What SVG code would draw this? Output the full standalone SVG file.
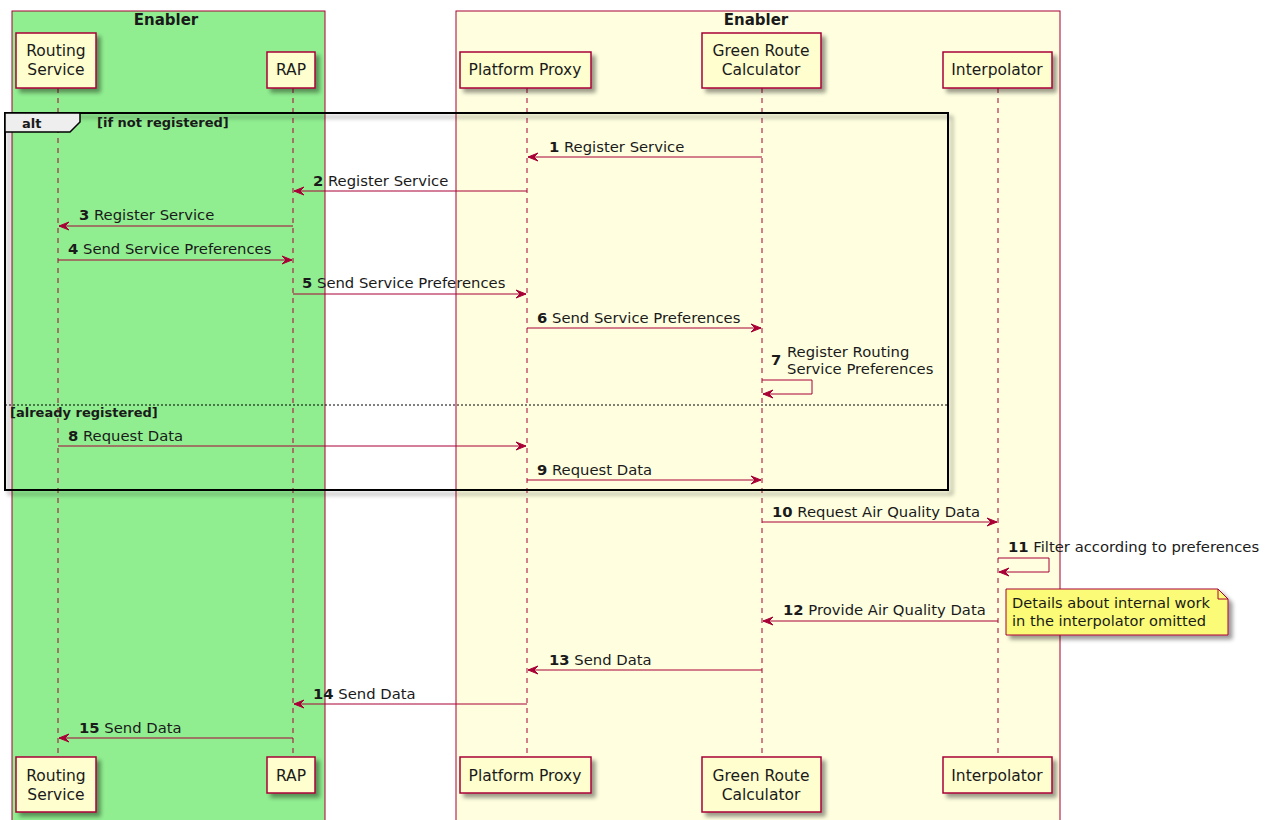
<svg xmlns="http://www.w3.org/2000/svg" width="1271" height="820" viewBox="0 0 1271 820">
  <style>
    text { font-family: "DejaVu Sans", "Liberation Sans", sans-serif; fill: #1a1a1a; }
    .grp { font-size: 15px; font-weight: bold; }
    .part rect { fill: #FEFECE; stroke: #A80036; stroke-width: 1.5; filter: url(#shadow); }
    .part text { font-size: 15.5px; text-anchor: middle; }
    .life { stroke: #A80036; stroke-width: 1; stroke-dasharray: 5,5; fill: none; }
    .msg line, .msg polyline { stroke: #A80036; stroke-width: 1; fill: none; marker-end: url(#arrow); }
    .msg text { font-size: 14.8px; }
    .num { font-weight: bold; }
    .frame { font-size: 13px; font-weight: bold; }
  </style>
  <defs>
    <filter id="shadow" x="-20%" y="-20%" width="150%" height="150%">
      <feGaussianBlur in="SourceAlpha" stdDeviation="2"/>
      <feOffset dx="4" dy="4" result="b"/>
      <feComponentTransfer><feFuncA type="linear" slope="0.4"/></feComponentTransfer>
      <feMerge><feMergeNode/><feMergeNode in="SourceGraphic"/></feMerge>
    </filter>
    <marker id="arrow" viewBox="0 0 11 10" refX="10" refY="5" markerWidth="11" markerHeight="10" markerUnits="userSpaceOnUse" orient="auto">
      <path d="M0,1 L10,5 L0,9 L4,5 Z" fill="#A80036" stroke="#A80036" stroke-width="1"/>
    </marker>
  </defs>

  <rect width="1271" height="820" fill="#FFFFFF"/>

  <!-- participant group boxes -->
  <g id="box-left">
    <rect x="12" y="11" width="313" height="815" fill="#90EE90" stroke="#A80036" stroke-width="1"/>
    <text class="grp" x="166" y="25" text-anchor="middle">Enabler</text>
  </g>
  <g id="box-right">
    <rect x="456" y="11" width="604" height="815" fill="#FFFFE0" stroke="#A80036" stroke-width="1"/>
    <text class="grp" x="756" y="25" text-anchor="middle">Enabler</text>
  </g>

  <!-- lifelines -->
  <g id="lifelines">
    <line class="life" x1="58" y1="88" x2="58" y2="757"/>
    <line class="life" x1="293" y1="88" x2="293" y2="757"/>
    <line class="life" x1="527" y1="88" x2="527" y2="757"/>
    <line class="life" x1="762" y1="88" x2="762" y2="757"/>
    <line class="life" x1="998" y1="88" x2="998" y2="757"/>
  </g>

  <!-- alt fragment -->
  <g id="alt">
    <rect x="5" y="113" width="943" height="377" fill="none" stroke="#000" stroke-width="2" filter="url(#shadow)"/>
    <path d="M5,113 L80,113 L80,122 L70,132 L5,132 Z" fill="#EEEEEE" stroke="#000" stroke-width="1.5"/>
    <text class="frame" x="22" y="128">alt</text>
    <text class="frame" x="97" y="127">[if not registered]</text>
    <line x1="5" y1="405" x2="948" y2="405" stroke="#000" stroke-width="1" stroke-dasharray="2,2"/>
    <text class="frame" x="10" y="417">[already registered]</text>
  </g>

  <!-- participants (top) -->
  <g id="p-routing" class="part">
    <rect x="16" y="33" width="80" height="55"/>
    <text x="56" y="56">Routing</text>
    <text x="56" y="75">Service</text>
  </g>
  <g id="p-rap" class="part">
    <rect x="267" y="52" width="48" height="36"/>
    <text x="291" y="75">RAP</text>
  </g>
  <g id="p-proxy" class="part">
    <rect x="460" y="52" width="131" height="36"/>
    <text x="525" y="75">Platform Proxy</text>
  </g>
  <g id="p-grc" class="part">
    <rect x="702" y="33" width="119" height="55"/>
    <text x="761" y="56">Green Route</text>
    <text x="761" y="75">Calculator</text>
  </g>
  <g id="p-interp" class="part">
    <rect x="943" y="52" width="109" height="36"/>
    <text x="997" y="75">Interpolator</text>
  </g>

  <!-- participants (bottom) -->
  <g id="p-routing-bottom" class="part">
    <rect x="16" y="757" width="80" height="55"/>
    <text x="56" y="781">Routing</text>
    <text x="56" y="800">Service</text>
  </g>
  <g id="p-rap-bottom" class="part">
    <rect x="267" y="757" width="48" height="36"/>
    <text x="291" y="781">RAP</text>
  </g>
  <g id="p-proxy-bottom" class="part">
    <rect x="460" y="757" width="131" height="36"/>
    <text x="525" y="781">Platform Proxy</text>
  </g>
  <g id="p-grc-bottom" class="part">
    <rect x="702" y="757" width="119" height="55"/>
    <text x="761" y="781">Green Route</text>
    <text x="761" y="800">Calculator</text>
  </g>
  <g id="p-interp-bottom" class="part">
    <rect x="943" y="757" width="109" height="36"/>
    <text x="997" y="781">Interpolator</text>
  </g>

  <!-- messages -->
  <g id="messages" class="msg">
    <line x1="762" y1="157" x2="528" y2="157"/>
    <text x="549" y="152"><tspan class="num">1</tspan> Register Service</text>

    <line x1="527" y1="191" x2="294" y2="191"/>
    <text x="313" y="186"><tspan class="num">2</tspan> Register Service</text>

    <line x1="293" y1="226" x2="59" y2="226"/>
    <text x="79" y="220"><tspan class="num">3</tspan> Register Service</text>

    <line x1="58" y1="260" x2="292" y2="260"/>
    <text x="68" y="254"><tspan class="num">4</tspan> Send Service Preferences</text>

    <line x1="293" y1="294" x2="526" y2="294"/>
    <text x="302" y="288"><tspan class="num">5</tspan> Send Service Preferences</text>

    <line x1="527" y1="328" x2="761" y2="328"/>
    <text x="537" y="323"><tspan class="num">6</tspan> Send Service Preferences</text>

    <polyline points="762,380 812,380 812,394 763,394"/>
    <text x="771" y="365" class="num">7</text>
    <text x="787" y="357">Register Routing</text>
    <text x="787" y="374">Service Preferences</text>

    <line x1="58" y1="446" x2="526" y2="446"/>
    <text x="68" y="441"><tspan class="num">8</tspan> Request Data</text>

    <line x1="527" y1="480" x2="761" y2="480"/>
    <text x="537" y="475"><tspan class="num">9</tspan> Request Data</text>

    <line x1="762" y1="522" x2="997" y2="522"/>
    <text x="772" y="517"><tspan class="num">10</tspan> Request Air Quality Data</text>

    <polyline points="998,558 1049,558 1049,572 999,572"/>
    <text x="1008" y="552"><tspan class="num">11</tspan> Filter according to preferences</text>

    <line x1="998" y1="621" x2="763" y2="621"/>
    <text x="783" y="615"><tspan class="num">12</tspan> Provide Air Quality Data</text>

    <line x1="762" y1="670" x2="528" y2="670"/>
    <text x="549" y="665"><tspan class="num">13</tspan> Send Data</text>

    <line x1="527" y1="704" x2="294" y2="704"/>
    <text x="313" y="699"><tspan class="num">14</tspan> Send Data</text>

    <line x1="293" y1="738" x2="59" y2="738"/>
    <text x="79" y="733"><tspan class="num">15</tspan> Send Data</text>
  </g>

  <!-- note -->
  <g id="note">
    <path d="M1006,589 L1218,589 L1228,599 L1228,635 L1006,635 Z" fill="#FBFB77" stroke="#A80036" stroke-width="1" filter="url(#shadow)"/>
    <path d="M1218,589 L1218,599 L1228,599" fill="none" stroke="#A80036" stroke-width="1"/>
    <text x="1012" y="608" font-size="14.6">Details about internal work</text>
    <text x="1012" y="626" font-size="14.6">in the interpolator omitted</text>
  </g>
</svg>
